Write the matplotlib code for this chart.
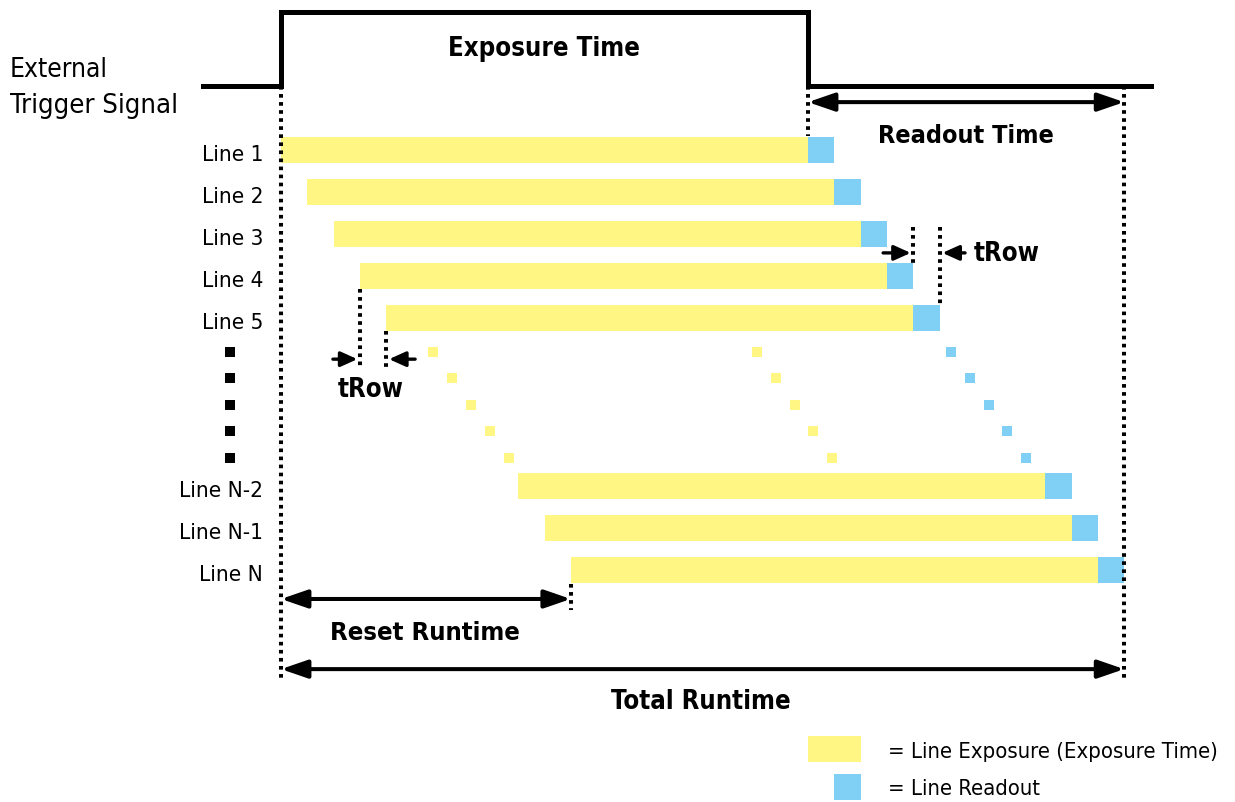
import os
import numpy as np
import matplotlib.pyplot as plt
from matplotlib import font_manager
from matplotlib.font_manager import FontProperties

# ---- pick a condensed sans face (the reference uses a narrow grotesque) ----
files = font_manager.findSystemFonts()

def find_face(fam, want):
    for f in files:
        b = os.path.basename(f).lower().replace('_', '').replace('-', '').replace(' ', '')
        if not b.startswith(fam) or 'mono' in b or 'italic' in b or 'oblique' in b:
            continue
        if 'condensed' not in b and 'narrow' not in b:
            continue
        if 'semicondensed' in b or 'extracondensed' in b:
            continue
        rest = b.split('condensed')[-1].split('narrow')[-1].split('.')[0]
        if rest == want:
            return f
    return None

reg_file, bold_file = None, None
for fam in ['liberationsans', 'notosans', 'opensans', 'dejavusans']:
    r = find_face(fam, '') or find_face(fam, 'regular')
    b = find_face(fam, 'extrabold') or find_face(fam, 'bold')
    if r and b:
        reg_file, bold_file = r, b
        break

plt.rcParams['font.family'] = ['Liberation Sans', 'DejaVu Sans']
if reg_file:
    fp_reg = FontProperties(fname=reg_file)
    fp_bold = FontProperties(fname=bold_file)
else:
    fp_reg = FontProperties(family='Liberation Sans')
    fp_bold = FontProperties(family='Liberation Sans', weight='bold')

# ---- data (time in tRow units, y in row units) ----
line_labels = ['Line 1', 'Line 2', 'Line 3', 'Line 4', 'Line 5', 'Line N-2', 'Line N-1', 'Line N']
line_rows = [0, 1, 2, 3, 4, 8, 9, 10]
line_starts = [0, 1, 2, 3, 4, 9, 10, 11]
exposure_len = 20
readout_len = 1

# the "..." dots between line 5 and line N-2
dot_rows = [4.81, 5.43, 6.07, 6.69, 7.33]
dot_start_x = [5.77, 6.49, 7.21, 7.93, 8.65]
dot_end_x = [18.06, 18.79, 19.51, 20.19, 20.91]
dot_read_x = [25.43, 26.15, 26.87, 27.55, 28.27]
dot_black_x = -1.94

# external trigger: step signal
trig_t = [-2.96, 0, 0, 20, 20, 33.0]
trig_lvl = [0, 0, 1, 1, 0, 0]
trig_low, trig_high = -1.52, -3.29

total_runtime = line_starts[-1] + exposure_len + readout_len
reset_runtime = line_starts[-1]

YELLOW = '#FFF683'
BLUE = '#7FD0F4'

fig = plt.figure(figsize=(12.35, 8.03), dpi=100)
ax = fig.add_axes([0, 0, 1, 1])
ax.set_xlim(-281 / 26.35, (1235 - 281) / 26.35)
ax.set_ylim((803 - 151) / 42, -151 / 42)
ax.axis('off')

# trigger signal
ax.plot(trig_t, [trig_high if v else trig_low for v in trig_lvl], color='k', lw=3.6,
        solid_joinstyle='miter')

# exposure + readout bars
bh = 0.62
ax.barh(line_rows, exposure_len, left=line_starts, height=bh, color=YELLOW, lw=0)
ax.barh(line_rows, readout_len, left=np.array(line_starts) + exposure_len, height=bh, color=BLUE, lw=0)

# dots
ms = 62
ax.scatter(dot_start_x, dot_rows, s=ms, marker='s', color=YELLOW, lw=0)
ax.scatter(dot_end_x, dot_rows, s=ms, marker='s', color=YELLOW, lw=0)
ax.scatter(dot_read_x, dot_rows, s=ms, marker='s', color=BLUE, lw=0)
ax.scatter([dot_black_x] * len(dot_rows), dot_rows, s=ms, marker='s', color='k', lw=0)

# dotted guide lines
dots = dict(color='k', lw=2.9, linestyle=(0, (0.9, 1.1)))
ax.plot([0, 0], [trig_low, 12.6], **dots)
ax.plot([20, 20], [trig_low, -0.33], **dots)
ax.plot([total_runtime] * 2, [trig_low, 12.6], **dots)
ax.plot([reset_runtime] * 2, [10.33, 10.95], **dots)
ax.plot([3, 3], [3.31, 5.2], **dots)
ax.plot([4, 4], [4.31, 5.2], **dots)
ax.plot([24, 24], [1.83, 2.7], **dots)
ax.plot([25, 25], [1.83, 3.7], **dots)

# double arrows
dbl = dict(arrowstyle='<|-|>,head_length=1.6,head_width=0.55', color='k', lw=2.9,
           shrinkA=0, shrinkB=0, mutation_scale=10)
ax.annotate('', xy=(20, -1.14), xytext=(total_runtime, -1.14), arrowprops=dbl)
ax.annotate('', xy=(0, 10.69), xytext=(reset_runtime, 10.69), arrowprops=dbl)
ax.annotate('', xy=(0, 12.36), xytext=(total_runtime, 12.36), arrowprops=dbl)

# tRow arrows
one = dict(arrowstyle='-|>,head_length=1.0,head_width=0.45', color='k', lw=2.4,
           shrinkA=0, shrinkB=0, mutation_scale=10)
ax.annotate('', xy=(2.9, 4.98), xytext=(1.97, 4.98), arrowprops=one)
ax.annotate('', xy=(4.1, 4.98), xytext=(5.09, 4.98), arrowprops=one)
ax.annotate('', xy=(23.9, 2.45), xytext=(22.85, 2.45), arrowprops=one)
ax.annotate('', xy=(25.1, 2.45), xytext=(25.96, 2.45), arrowprops=one)

# ---- texts; each one is sized to the width it has in the reference (px) ----
texts = []
def label(x, y, s, fp, width_px, ha='center'):
    t = ax.text(x, y, s, ha=ha, va='center', fontproperties=fp, fontsize=20)
    texts.append((t, width_px))
    return t

line_texts = []
for lab, r in zip(line_labels, line_rows):
    line_texts.append(ax.text(-0.68, r + 0.1, lab, ha='right', va='center',
                              fontproperties=fp_reg, fontsize=20))

label(10, -2.42, 'Exposure Time', fp_bold, 191)
label(25.98, -0.35, 'Readout Time', fp_bold, 176)
label(3.4, 5.7, 'tRow', fp_bold, 66)
label(26.3, 2.45, 'tRow', fp_bold, 66, ha='left')
label(5.46, 11.48, 'Reset Runtime', fp_bold, 190)
label(15.94, 13.12, 'Total Runtime', fp_bold, 180)

label(-10.28, -1.93, 'External', fp_reg, 98, ha='left')
label(-10.28, -1.07, 'Trigger Signal', fp_reg, 167, ha='left')

# legend keys
ax.barh([14.26], [2.0], left=[20.0], height=0.62, color=YELLOW, lw=0)
ax.barh([15.17], [1.0], left=[21.0], height=0.62, color=BLUE, lw=0)
leg1 = label(23.04, 14.3, '= Line Exposure (Exposure Time)', fp_reg, 330, ha='left')
leg2 = ax.text(23.04, 15.2, '= Line Readout', ha='left', va='center', fontproperties=fp_reg, fontsize=20)

fig.canvas.draw()
rend = fig.canvas.get_renderer()
for t, w in texts:
    cur = t.get_window_extent(rend).width
    t.set_fontsize(20 * w / cur)
# line labels share one size, fitted on 'Line N-2' (84 px)
cur = line_texts[5].get_window_extent(rend).width
for t in line_texts:
    t.set_fontsize(20 * 84 / cur)
leg2.set_fontsize(leg1.get_fontsize())

fig.savefig('out.png', dpi=100)
